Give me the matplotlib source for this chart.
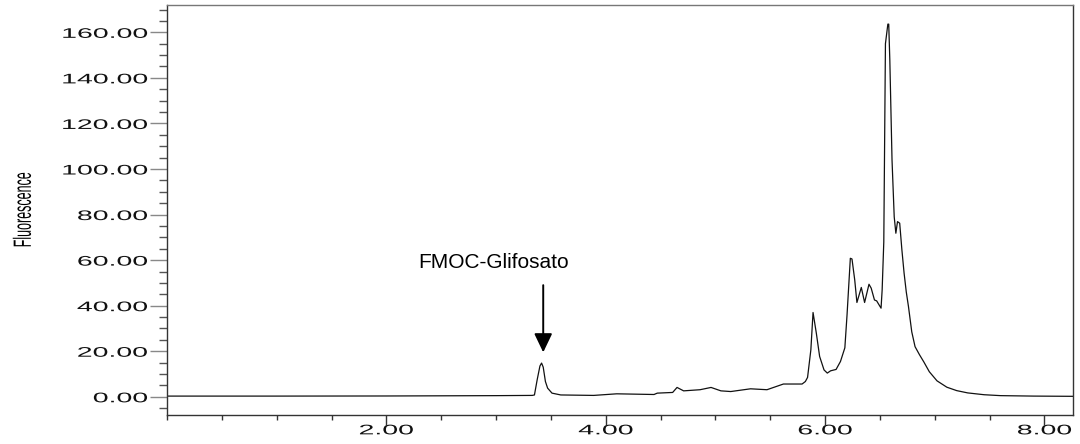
import numpy as np
import matplotlib
matplotlib.use("Agg")
import matplotlib.pyplot as plt
from matplotlib.patheffects import AbstractPathEffect
from matplotlib.transforms import Affine2D
from matplotlib.ticker import MultipleLocator

# chromatogram: retention time (min) and fluorescence
time = [0.00, 1.00, 2.00, 3.00, 3.33, 3.35, 3.375, 3.40, 3.415, 3.43, 3.45,
        3.47, 3.51, 3.59, 3.89, 4.10, 4.44, 4.47, 4.61, 4.65, 4.71, 4.86,
        4.96, 5.05, 5.14, 5.32, 5.47, 5.62, 5.79, 5.82, 5.84, 5.87, 5.89,
        5.92, 5.95, 5.99, 6.02, 6.05, 6.10, 6.14, 6.18, 6.20, 6.23, 6.245,
        6.27, 6.29, 6.33, 6.36, 6.40, 6.42, 6.45, 6.47, 6.51, 6.52, 6.535,
        6.55, 6.572, 6.58, 6.59, 6.61, 6.63, 6.645, 6.66, 6.68, 6.70, 6.72,
        6.74, 6.76, 6.79, 6.82, 6.86, 6.90, 6.95, 7.02, 7.11, 7.20, 7.30,
        7.45, 7.60, 7.90, 8.26]
signal = [0.3, 0.3, 0.35, 0.5, 0.6, 0.8, 7.5, 13.5, 14.8, 13.0, 6.7,
          3.8, 1.6, 0.8, 0.6, 1.3, 1.0, 1.6, 1.9, 4.1, 2.6, 3.1,
          4.1, 2.6, 2.3, 3.5, 3.1, 5.6, 5.6, 6.7, 8.5, 20.6, 37.0,
          27.9, 17.7, 11.8, 10.4, 11.4, 12.0, 15.5, 21.5, 36.0, 60.8, 60.5,
          51.3, 41.4, 48.0, 41.4, 49.4, 47.7, 42.5, 42.1, 38.9, 46.9, 68.0,
          155.0, 163.6, 163.6, 147.8, 104.0, 79.0, 71.8, 76.9, 76.2, 64.5, 54.3,
          46.0, 39.6, 28.5, 22.0, 18.5, 15.3, 11.0, 7.0, 4.2, 2.7, 1.7,
          0.9, 0.5, 0.3, 0.2]

yticks = [0, 20, 40, 60, 80, 100, 120, 140, 160]
xticks = [2, 4, 6, 8]
peak_label = "FMOC-Glifosato"
peak_time = 3.43


class Stretch(AbstractPathEffect):
    """Scale drawn text paths around one edge (wide / narrow lettering)."""

    def __init__(self, sx=1.0, sy=1.0, anchor="center"):
        super().__init__()
        self.sx, self.sy, self.anchor = sx, sy, anchor

    def draw_path(self, renderer, gc, tpath, affine, rgbFace=None):
        bb = tpath.get_extents(affine)
        if self.anchor == "right":
            x0 = bb.x1
        elif self.anchor == "left":
            x0 = bb.x0
        else:
            x0 = (bb.x0 + bb.x1) / 2
        y0 = (bb.y0 + bb.y1) / 2
        t = affine + Affine2D().translate(-x0, -y0).scale(self.sx, self.sy).translate(x0, y0)
        renderer.draw_path(gc, tpath, t, rgbFace)


plt.rcParams["font.family"] = ["Liberation Sans", "DejaVu Sans"]

fig = plt.figure(figsize=(10.8, 4.44), dpi=100)
ax = fig.add_axes([167 / 1080, 29 / 444, 906 / 1080, 410 / 444])

ax.plot(time, signal, color="#111", lw=0.9)

ax.set_xlim(0, 8.26)
ax.set_ylim(-8, 172)

ax.set_xticks(xticks, [f"{v:.2f}" for v in xticks])
ax.set_yticks(yticks, [f"{v:.2f}" for v in yticks])
ax.xaxis.set_minor_locator(MultipleLocator(0.5))
ax.yaxis.set_minor_locator(MultipleLocator(5))

ax.tick_params(axis="y", which="major", length=12, width=1, color="#888", pad=2, labelsize=10)
ax.tick_params(axis="y", which="minor", length=6, width=1, color="#555")
ax.tick_params(axis="x", which="major", length=7, width=1, color="#333", pad=-1, labelsize=10)
ax.tick_params(axis="x", which="minor", length=3.6, width=1, color="#333")

for lbl in ax.get_yticklabels():
    lbl.set_color("#111")
    lbl.set_path_effects([Stretch(sx=2.05, anchor="right")])
for lbl in ax.get_xticklabels():
    lbl.set_color("#111")
    lbl.set_path_effects([Stretch(sx=2.05, anchor="center")])

for side in ["left", "bottom", "top", "right"]:
    ax.spines[side].set_color("#333")
    ax.spines[side].set_linewidth(1)
ax.spines["top"].set_color("#777")

ylab = ax.set_ylabel("Fluorescence", fontsize=18, va="center")
ax.yaxis.set_label_coords(-0.158, 0.5)
ylab.set_path_effects([Stretch(sy=0.5)])

ax.annotate("", xy=(peak_time, 19.5), xytext=(peak_time, 49),
            arrowprops=dict(arrowstyle="-|>,head_length=1.15,head_width=0.55",
                            mutation_scale=10, color="black", lw=1.4,
                            shrinkA=0, shrinkB=0))
ax.text(2.98, 58.8, peak_label, fontsize=15, ha="center", va="center")

fig.savefig("out.png", dpi=100)
